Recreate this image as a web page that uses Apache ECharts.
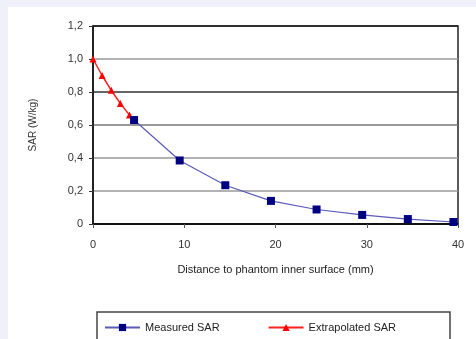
<!DOCTYPE html>
<html><head><meta charset="utf-8">
<script src="https://cdn.jsdelivr.net/npm/echarts@6/dist/echarts.min.js"></script>
<style>html,body{margin:0;padding:0;background:#eef1f9;}#wrap{position:absolute;left:8px;top:7px;right:0;bottom:0;background:#fff;}#c{position:absolute;left:0;top:0;width:476px;height:339px;}</style>
</head><body><div id="wrap"></div><div id="c"></div>
<script>
var measuredX = [4.5, 9.5, 14.5, 19.5, 24.5, 29.5, 34.5, 39.5];
var measuredY = [0.63, 0.385, 0.235, 0.14, 0.088, 0.055, 0.03, 0.012];
var extrapX = [0, 1, 2, 3, 4, 4.5];
var extrapY = [1.0, 0.9, 0.81, 0.73, 0.66, 0.63];
var yTicks = [0, 0.2, 0.4, 0.6, 0.8, 1.0, 1.2];
var xTicks = [0, 10, 20, 30, 40];

function pairs(xs, ys){ return xs.map(function(x,i){return [x, ys[i]];}); }

var chart = echarts.init(document.getElementById('c'), null, {renderer:'canvas'});
var font = 'Liberation Sans, Arial, sans-serif';
chart.setOption({
  backgroundColor: 'transparent',
  animation: false,
  grid: {left: 93, right: 18, top: 26, bottom: 115, show: true, borderColor: '#222', borderWidth: 1.5},
  xAxis: {
    type: 'value', min: 0, max: 40, interval: 10,
    name: 'Distance to phantom inner surface (mm)', nameLocation: 'middle', nameGap: 40,
    nameTextStyle: {fontFamily: font, fontSize: 11, color: '#222'},
    axisLine: {lineStyle: {color: '#111', width: 1.5}},
    axisTick: {show: true, length: 4, lineStyle: {color: '#555'}},
    axisLabel: {fontFamily: font, fontSize: 11, color: '#333', margin: 15,
      formatter: function(v){ return xTicks.indexOf(v) >= 0 ? String(v) : ''; }},
    splitLine: {show: false}
  },
  yAxis: {
    type: 'value', min: 0, max: 1.2, interval: 0.2,
    name: 'SAR (W/kg)', nameLocation: 'middle', nameGap: 55,
    nameTextStyle: {fontFamily: font, fontSize: 10, color: '#333'},
    axisLine: {lineStyle: {color: '#111', width: 1.5}},
    axisTick: {show: true, length: 4, lineStyle: {color: '#333'}},
    axisLabel: {fontFamily: font, fontSize: 11, color: '#333', margin: 10,
      formatter: function(v){ var t = yTicks.filter(function(k){return Math.abs(k-v)<1e-6;}); if(!t.length) return ''; return v === 0 ? '0' : v.toFixed(1).replace('.', ','); }},
    splitLine: {show: true, lineStyle: {color: ['#000', '#999', '#999', '#777', '#333', '#999', '#222'], width: 1.5}}
  },
  legend: {
    show: true, left: 99, top: 317, itemGap: 48, itemWidth: 35, itemHeight: 9,
    textStyle: {fontFamily: font, fontSize: 11, color: '#222'},
    data: ['Measured SAR', 'Extrapolated SAR']
  },
  graphic: [{type: 'rect', shape: {x: 97, y: 312, width: 353, height: 40}, style: {fill: 'none', stroke: '#444', lineWidth: 1.5}, z: -1}],
  series: [
    {name: 'Extrapolated SAR', type: 'line', data: pairs(extrapX, extrapY), symbol: 'triangle', symbolSize: 7,
     lineStyle: {color: '#ff2020', width: 1.5}, itemStyle: {color: '#ff0000'}, z: 2},
    {name: 'Measured SAR', type: 'line', data: pairs(measuredX, measuredY), symbol: 'rect', symbolSize: 8,
     lineStyle: {color: '#5a5ab8', width: 1.2}, itemStyle: {color: '#000080'}, z: 3}
  ]
});
</script></body></html>
